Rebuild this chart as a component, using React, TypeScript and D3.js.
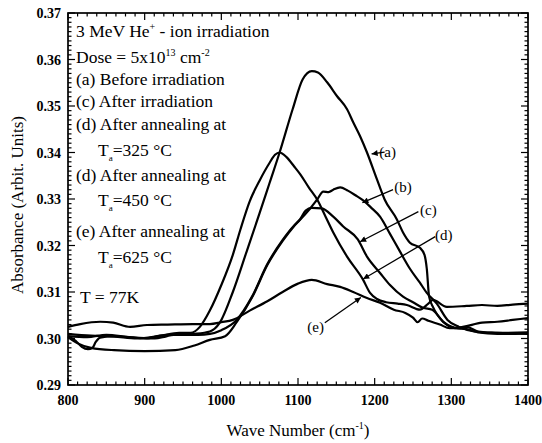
import React from "react";
import * as d3 from "d3";

// ---- data (wave number cm^-1, absorbance) ----
const curveA: [number, number][] = [
  [800, 0.3005], [825, 0.3003], [850, 0.3008], [880, 0.3003], [910, 0.3], [940, 0.3008], [965, 0.301], [985, 0.3015],
  [998, 0.3034], [1015, 0.31], [1033, 0.3187], [1050, 0.327], [1063, 0.3335], [1076, 0.34], [1093, 0.3493], [1106, 0.3557],
  [1118, 0.3575], [1126, 0.3572], [1138, 0.3551], [1151, 0.3521], [1164, 0.3493], [1172, 0.3465], [1181, 0.3435], [1190, 0.34],
  [1203, 0.3342], [1213, 0.3299], [1229, 0.3256], [1237, 0.3228], [1246, 0.3206], [1259, 0.3195], [1265, 0.318], [1268, 0.315],
  [1271, 0.309], [1276, 0.3068], [1290, 0.3035], [1305, 0.3022], [1320, 0.302], [1335, 0.3013], [1360, 0.301], [1380, 0.301], [1400, 0.3012],
];
const curveB: [number, number][] = [
  [800, 0.3005], [810, 0.2995], [818, 0.2982], [826, 0.2977], [832, 0.298], [836, 0.2992], [842, 0.3002], [860, 0.3005],
  [880, 0.3003], [900, 0.3], [930, 0.3008], [950, 0.3008], [970, 0.3008], [985, 0.301], [1000, 0.3018], [1020, 0.304],
  [1040, 0.309], [1060, 0.316], [1080, 0.3212], [1095, 0.3243], [1103, 0.3256], [1115, 0.3278], [1125, 0.3299], [1133, 0.3316],
  [1140, 0.3315], [1146, 0.332], [1155, 0.3325], [1165, 0.3318], [1175, 0.3308], [1185, 0.3297], [1195, 0.3282], [1207, 0.3262],
  [1220, 0.3225], [1232, 0.319], [1246, 0.315], [1259, 0.312], [1268, 0.3098], [1281, 0.3075], [1295, 0.304], [1310, 0.3025],
  [1330, 0.3015], [1360, 0.3012], [1400, 0.301],
];
const curveC: [number, number][] = [
  [800, 0.3003], [812, 0.299], [830, 0.298], [860, 0.2975], [900, 0.2973], [940, 0.2975], [965, 0.2985], [985, 0.2997],
  [1005, 0.3005], [1020, 0.3035], [1040, 0.3088], [1060, 0.3158], [1080, 0.321], [1095, 0.3242], [1103, 0.3257], [1110, 0.3275],
  [1118, 0.3281], [1131, 0.328], [1146, 0.3262], [1159, 0.3241], [1178, 0.3213], [1190, 0.3176], [1207, 0.3141], [1220, 0.3115],
  [1237, 0.309], [1250, 0.3078], [1263, 0.3066], [1275, 0.3062], [1290, 0.3035], [1310, 0.3022], [1320, 0.3025], [1335, 0.3015],
  [1360, 0.3012], [1400, 0.3013],
];
const curveD: [number, number][] = [
  [800, 0.301], [830, 0.3006], [860, 0.3004], [890, 0.3], [920, 0.3006], [945, 0.3012], [960, 0.3012], [972, 0.3025],
  [985, 0.306], [1000, 0.3115], [1015, 0.318], [1025, 0.3235], [1037, 0.3295], [1050, 0.334], [1063, 0.3378], [1070, 0.3395],
  [1076, 0.34], [1085, 0.339], [1095, 0.337], [1103, 0.3353], [1114, 0.3325], [1125, 0.3299], [1136, 0.3262], [1146, 0.3228],
  [1164, 0.3176], [1185, 0.3126], [1194, 0.3098], [1203, 0.3085], [1215, 0.3078], [1230, 0.3075], [1242, 0.3072], [1259, 0.3062],
  [1270, 0.3075], [1276, 0.3083], [1294, 0.3068], [1320, 0.307], [1340, 0.3072], [1360, 0.307], [1380, 0.3073], [1400, 0.3075],
];
const curveE: [number, number][] = [
  [800, 0.3025], [816, 0.3031], [842, 0.3036], [859, 0.3034], [881, 0.3025], [903, 0.3029], [930, 0.303], [963, 0.3031],
  [985, 0.3031], [1000, 0.3035], [1015, 0.304], [1037, 0.306], [1060, 0.308], [1080, 0.31], [1100, 0.3118], [1118, 0.3126],
  [1138, 0.3117], [1155, 0.3111], [1172, 0.31], [1190, 0.3087], [1207, 0.3077], [1225, 0.3062], [1240, 0.3055], [1250, 0.3045],
  [1256, 0.3035], [1262, 0.3043], [1270, 0.3038], [1285, 0.303], [1298, 0.3022], [1315, 0.3025], [1340, 0.3034], [1360, 0.3036],
  [1380, 0.304], [1400, 0.3044],
];
const series = [curveA, curveB, curveC, curveD, curveE];

const xTicks = [800, 900, 1000, 1100, 1200, 1300, 1400];
const yTicks = [0.29, 0.3, 0.31, 0.32, 0.33, 0.34, 0.35, 0.36, 0.37];
const yTickLabels = ["0.29", "0.30", "0.31", "0.32", "0.33", "0.34", "0.35", "0.36", "0.37"];

// annotation labels: text, label anchor (data), arrow start (data), arrow tip (data)
const annotations = [
  { text: "(a)", lx: 1217, ly: 0.3402, sx: 1213, sy: 0.3401, tx: 1196, ty: 0.3397 },
  { text: "(b)", lx: 1237, ly: 0.3325, sx: 1224, sy: 0.332, tx: 1184, ty: 0.3292 },
  { text: "(c)", lx: 1270, ly: 0.3277, sx: 1257, sy: 0.3273, tx: 1181, ty: 0.3208 },
  { text: "(d)", lx: 1290, ly: 0.3223, sx: 1279, sy: 0.3219, tx: 1185, ty: 0.3128 },
  { text: "(e)", lx: 1123, ly: 0.3025, sx: 1135, sy: 0.3034, tx: 1182, ty: 0.3088 },
];

const W = 542, H = 443;
const L = 68, R = 528, T = 13, B = 385;

export default function App() {
  const x = d3.scaleLinear().domain([800, 1400]).range([L, R]);
  const y = d3.scaleLinear().domain([0.29, 0.37]).range([B, T]);
  const line = d3.line<[number, number]>().x(d => x(d[0])).y(d => y(d[1])).curve(d3.curveMonotoneX);

  const xMinor = d3.range(800, 1400.001, 12.5);
  const yMinor = d3.range(0, 81).map(i => 0.29 + i * 0.001);
  const font = "'Liberation Serif', 'Times New Roman', serif";

  const legendX = 76;
  const sub = (s: string) => <tspan fontSize={9} dy={5}>{s}</tspan>;

  return (
    <svg width={W} height={H} style={{ position: "absolute", left: 0, top: 0, background: "#fff" }} fontFamily={font}>
      <defs>
        <marker id="ah" viewBox="0 0 10 10" refX="10" refY="5" markerWidth="7" markerHeight="6" orient="auto" markerUnits="userSpaceOnUse">
          <path d="M0,0 L10,5 L0,10 z" fill="#000" />
        </marker>
      </defs>
      {/* ticks */}
      <g stroke="#000" strokeWidth={1.2}>
        {xMinor.map((v, i) => {
          const major = xTicks.includes(v);
          const len = major ? 7 : 3.5;
          return (
            <g key={"xm" + i}>
              <line x1={x(v)} x2={x(v)} y1={B} y2={B - len} />
              <line x1={x(v)} x2={x(v)} y1={T} y2={T + len} />
            </g>
          );
        })}
        {yMinor.map((v, i) => {
          const major = i % 10 === 0;
          const len = major ? 7 : 3.5;
          return (
            <g key={"ym" + i}>
              <line x1={L} x2={L + len} y1={y(v)} y2={y(v)} />
              <line x1={R} x2={R - len} y1={y(v)} y2={y(v)} />
            </g>
          );
        })}
      </g>
      <rect x={L} y={T} width={R - L} height={B - T} fill="none" stroke="#000" strokeWidth={1.7} />
      {/* tick labels */}
      <g fontSize={14} fontWeight="bold" fill="#000">
        {yTicks.map((v, i) => (
          <text key={"yl" + i} x={L - 7} y={y(v) + 5} textAnchor="end">{yTickLabels[i]}</text>
        ))}
        {xTicks.map((v, i) => (
          <text key={"xl" + i} x={x(v)} y={B + 20} textAnchor="middle">{v}</text>
        ))}
      </g>
      {/* axis titles */}
      <text x={(L + R) / 2} y={436} textAnchor="middle" fontSize={17}>
        Wave Number (cm<tspan fontSize={10} dy={-7}>-1</tspan><tspan dy={7}>)</tspan>
      </text>
      <text transform={`translate(23,205) rotate(-90)`} textAnchor="middle" fontSize={17}>Absorbance (Arbit. Units)</text>
      {/* curves */}
      <g fill="none" stroke="#000" strokeWidth={2.2} strokeLinejoin="round">
        {series.map((s, i) => <path key={"c" + i} d={line(s) || ""} />)}
      </g>
      {/* annotations */}
      <g fontSize={15}>
        {annotations.map((a, i) => (
          <g key={"an" + i}>
            <line x1={x(a.sx)} y1={y(a.sy)} x2={x(a.tx)} y2={y(a.ty)} stroke="#000" strokeWidth={1.3} markerEnd="url(#ah)" />
            <text x={x(a.lx)} y={y(a.ly) + 5} textAnchor="middle">{a.text}</text>
          </g>
        ))}
      </g>
      {/* legend text */}
      <g fontSize={17.5} fill="#000">
        <text x={legendX} y={37}>3 MeV He<tspan fontSize={10} dy={-7}>+</tspan><tspan dy={7}> - ion irradiation</tspan></text>
        <text x={legendX} y={63}>Dose = 5x10<tspan fontSize={10} dy={-7}>13</tspan><tspan dy={7}> cm</tspan><tspan fontSize={10} dy={-7}>-2</tspan></text>
        <text x={legendX} y={85}>(a) Before irradiation</text>
        <text x={legendX} y={107}>(c) After irradiation</text>
        <text x={legendX} y={130}>(d) After annealing at</text>
        <text x={98} y={156}>T{sub("a")}<tspan dy={-5}>=325 °C</tspan></text>
        <text x={legendX} y={181}>(d) After annealing at</text>
        <text x={98} y={206}>T{sub("a")}<tspan dy={-5}>=450 °C</tspan></text>
        <text x={legendX} y={237}>(e) After annealing at</text>
        <text x={98} y={263}>T{sub("a")}<tspan dy={-5}>=625 °C</tspan></text>
        <text x={80} y={303}>T = 77K</text>
      </g>
    </svg>
  );
}
